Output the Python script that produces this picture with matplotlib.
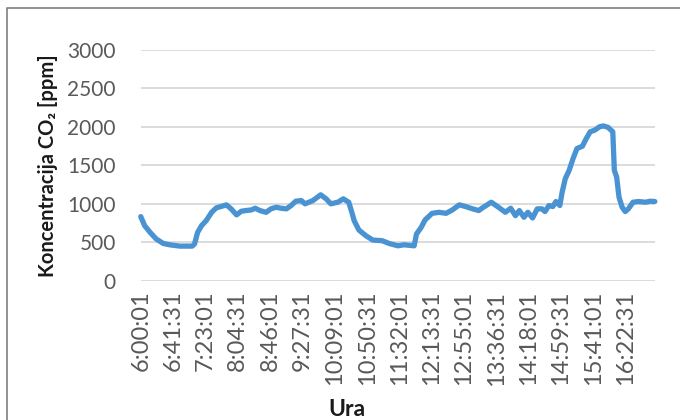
import numpy as np
import matplotlib.pyplot as plt
from matplotlib.lines import Line2D

# minutes after 6:00:01 and CO2 concentration
minutes = [0, 5, 12, 20, 29, 37, 50, 66, 69, 73, 78, 84, 91, 97, 103, 110,
           116, 123, 129, 135, 142, 147, 153, 161, 167, 174, 180, 187, 193,
           199, 206, 211, 221, 231, 238, 244, 253, 260, 267, 271, 274, 280,
           289, 298, 310, 319, 330, 338, 351, 354, 360, 365, 374, 383, 392,
           400, 409, 417, 426, 434, 438, 450, 458, 468, 475, 481, 486, 492,
           497, 503, 509, 515, 519, 524, 529, 533, 538, 541, 545, 550, 555,
           560, 567, 572, 577, 583, 589, 594, 600, 606, 608, 611, 614, 618,
           622, 626, 632, 639, 648, 654, 660]
co2 = [834, 717, 630, 543, 486, 469, 452, 452, 478, 630, 717, 782, 890, 948,
       965, 987, 935, 857, 904, 913, 921, 943, 913, 890, 935, 956, 943, 935,
       978, 1034, 1043, 1000, 1043, 1117, 1065, 1000, 1021, 1065, 1021, 890,
       782, 661, 587, 530, 522, 486, 456, 469, 456, 609, 695, 791, 877, 890,
       877, 921, 987, 965, 935, 913, 943, 1021, 965, 891, 943, 847, 913, 826,
       891, 817, 935, 935, 900, 978, 965, 1030, 978, 1152, 1326, 1434, 1587,
       1717, 1747, 1847, 1934, 1956, 1999, 2010, 1991, 1934, 1434, 1347, 1086,
       956, 900, 935, 1021, 1030, 1021, 1034, 1030]

tick_labels = ['6:00:01', '6:41:31', '7:23:01', '8:04:31', '8:46:01', '9:27:31',
               '10:09:01', '10:50:31', '11:32:01', '12:13:31', '12:55:01',
               '13:36:31', '14:18:01', '14:59:31', '15:41:01', '16:22:31']
tick_step = 41.5  # minutes between labels
y_ticks = [0, 500, 1000, 1500, 2000, 2500, 3000]

plt.rcParams['font.family'] = ['Lato', 'DejaVu Sans']

fig = plt.figure(figsize=(6.8, 4.2), dpi=100)
ax = fig.add_axes([0.207, 0.331, 0.756, 0.551])

ax.plot(minutes, co2, color='#4a93d3', lw=3.8, solid_capstyle='round',
        solid_joinstyle='round', zorder=3, clip_on=False)

ax.set_xlim(0, 660)
ax.set_ylim(0, 3000)
ax.set_yticks(y_ticks)
ax.set_xticks([i * tick_step for i in range(len(tick_labels))])
ax.set_xticklabels(tick_labels, rotation=90)

ax.grid(axis='y', color='#d9d9d9', lw=1.3)
ax.set_axisbelow(True)
for s in ax.spines.values():
    s.set_visible(False)
ax.tick_params(axis='both', length=0, labelcolor='#595959')
ax.tick_params(axis='y', pad=18, labelsize=15)
ax.tick_params(axis='x', pad=7, labelsize=17)

ax.set_ylabel('Koncentracija CO\u2082 [ppm]', fontsize=14.5, fontweight='bold',
              color='#1a1a1a', labelpad=7)
fig.text(0.51, 0.026, 'Ura', fontsize=16.5, fontweight='bold', color='#1a1a1a',
         ha='center', va='center')

# chart border (cut by the image edges)
fig.add_artist(Line2D([0.0096, 0.0096, 1.0], [0.0, 0.98, 0.98],
                      transform=fig.transFigure, color='#7f7f7f', lw=1.2))

fig.savefig('out.png', dpi=100)
